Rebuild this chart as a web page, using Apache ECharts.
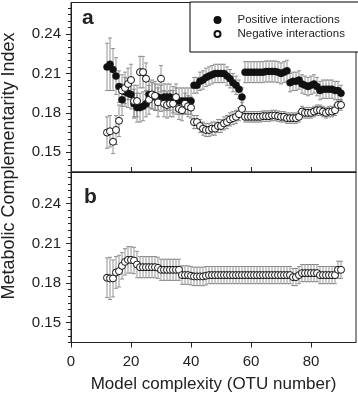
<!DOCTYPE html>
<html><head><meta charset="utf-8">
<script src="https://cdn.jsdelivr.net/npm/echarts@6/dist/echarts.min.js"></script>
<style>html,body{margin:0;padding:0;background:#fff}#c{width:358px;height:396px}</style>
</head><body><div id="c"></div>
<script>
const otu = [12,13,14,15,16,17,18,19,20,21,22,23,24,25,26,27,28,29,30,31,32,33,34,35,36,37,38,39,40,41,42,43,44,45,46,47,48,49,50,51,52,53,54,55,56,57,58,59,60,61,62,63,64,65,66,67,68,69,70,71,72,73,74,75,76,77,78,79,80,81,82,83,84,85,86,87,88,89,90];
const posA = [0.215,0.217,0.213,0.208,0.200,0.190,0.196,0.195,0.194,0.187,
  0.184,0.184,0.185,0.187,0.194,0.193,0.192,0.192,0.191,0.192,
  0.192,0.192,0.190,0.189,0.189,0.189,0.189,0.189,0.189,0.201,
  0.201,0.204,0.205,0.207,0.208,0.209,0.210,0.210,0.210,0.210,
  0.208,0.206,0.203,0.201,0.198,0.192,0.211,0.211,0.211,0.211,
  0.211,0.211,0.211,0.2115,0.2115,0.2115,0.2115,0.211,0.210,0.211,
  0.212,0.203,0.204,0.204,0.205,0.202,0.201,0.200,0.201,0.202,
  0.200,0.197,0.198,0.198,0.198,0.198,0.197,0.197,0.195];
const posAErr = [0.018,0.020,0.016,0.014,0.012,0.012,0.011,0.011,0.011,0.011,
  0.011,0.011,0.011,0.010,0.010,0.010,0.010,0.010,0.010,0.010,
  0.010,0.010,0.010,0.010,0.010,0.010,0.010,0.010,0.010,0.006,
  0.006,0.007,0.007,0.007,0.007,0.007,0.007,0.007,0.007,0.007,
  0.007,0.007,0.007,0.007,0.007,0.007,0.008,0.008,0.008,0.008,
  0.008,0.008,0.008,0.008,0.008,0.008,0.008,0.008,0.008,0.008,
  0.008,0.007,0.007,0.007,0.007,0.007,0.007,0.007,0.007,0.007,
  0.007,0.007,0.007,0.007,0.007,0.007,0.007,0.007,0.006];
const negA = [0.165,0.166,0.158,0.167,0.174,0.197,0.199,0.202,0.205,0.189,
  0.189,0.211,0.211,0.206,0.190,0.194,0.193,0.188,0.206,0.187,
  0.186,0.187,0.187,0.192,0.183,0.182,0.187,0.185,0.184,0.173,
  0.173,0.170,0.168,0.167,0.167,0.168,0.168,0.170,0.170,0.172,
  0.173,0.175,0.176,0.177,0.179,0.183,0.177,0.177,0.177,0.177,
  0.177,0.177,0.1775,0.1775,0.1775,0.178,0.178,0.1775,0.177,0.177,
  0.176,0.176,0.176,0.176,0.177,0.181,0.180,0.180,0.180,0.181,
  0.182,0.182,0.181,0.180,0.181,0.181,0.182,0.186,0.186];
const negAErr = [0.012,0.012,0.009,0.011,0.012,0.012,0.012,0.012,0.012,0.012,
  0.012,0.012,0.012,0.012,0.011,0.011,0.011,0.011,0.010,0.010,
  0.010,0.010,0.010,0.010,0.008,0.008,0.008,0.008,0.008,0.005,
  0.005,0.005,0.005,0.005,0.005,0.005,0.005,0.005,0.005,0.005,
  0.005,0.005,0.005,0.005,0.005,0.005,0.004,0.004,0.004,0.004,
  0.004,0.004,0.004,0.004,0.004,0.004,0.004,0.004,0.004,0.004,
  0.004,0.004,0.004,0.004,0.004,0.004,0.004,0.004,0.004,0.004,
  0.004,0.004,0.004,0.004,0.004,0.004,0.004,0.004,0.004];
const negB = [0.184,0.1835,0.1835,0.188,0.189,0.193,0.196,0.1975,0.1975,0.197,
  0.194,0.192,0.192,0.192,0.192,0.192,0.192,0.1915,0.190,0.190,
  0.190,0.190,0.190,0.190,0.190,0.186,0.186,0.186,0.1855,0.185,
  0.185,0.185,0.185,0.1855,0.186,0.186,0.186,0.186,0.186,0.186,
  0.186,0.186,0.186,0.186,0.186,0.186,0.186,0.186,0.186,0.186,
  0.186,0.186,0.186,0.186,0.186,0.186,0.186,0.186,0.186,0.186,
  0.186,0.186,0.1845,0.1845,0.186,0.1875,0.1875,0.1875,0.1875,0.1875,
  0.1875,0.186,0.186,0.186,0.186,0.186,0.186,0.190,0.190];
const negBErr = [0.015,0.016,0.014,0.012,0.012,0.010,0.010,0.010,0.010,0.010,
  0.010,0.008,0.008,0.008,0.008,0.008,0.008,0.008,0.008,0.008,
  0.008,0.008,0.008,0.008,0.008,0.007,0.007,0.007,0.007,0.007,
  0.007,0.007,0.007,0.007,0.0065,0.0065,0.0065,0.0065,0.0065,0.0065,
  0.0065,0.0065,0.0065,0.0065,0.0065,0.0065,0.0065,0.0065,0.0065,0.0065,
  0.0065,0.0065,0.0065,0.0065,0.0065,0.0065,0.0065,0.0065,0.0065,0.0065,
  0.0065,0.0065,0.0065,0.0065,0.0065,0.0065,0.0065,0.0065,0.0065,0.0065,
  0.0065,0.0065,0.0065,0.0065,0.0065,0.0065,0.0065,0.0065,0.0065];
const xTicks = [0,20,40,60,80];
const yTicks = [0.15,0.18,0.21,0.24];
const seriesNames = ['Positive interactions','Negative interactions'];
const panelLabels = ['a','b'];
const xTitle = 'Model complexity (OTU number)';
const yTitle = 'Metabolic Complementarity Index';

const FONT = '"Liberation Sans", Arial, sans-serif';
const INK = '#222';
const yMin = 0.135, yMax = 0.264;
const minorTicks = [];
for (let k = 27; k * 0.005 <= yMax + 1e-9; k++) minorTicks.push(+(k * 0.005).toFixed(3));

function pts(m){ return otu.map((x,i)=>[x,m[i]]); }
function bars(m,e){ return otu.map((x,i)=>[x,m[i]-e[i],m[i]+e[i]]); }
function errRender(params, api){
  const x = api.value(0);
  const a = api.coord([x, api.value(1)]);
  const b = api.coord([x, api.value(2)]);
  const w = 2;
  const st = {stroke:'#7a7a7a', lineWidth:0.8};
  return {type:'group', children:[
    {type:'line', shape:{x1:a[0],y1:a[1],x2:b[0],y2:b[1]}, style:st},
    {type:'line', shape:{x1:a[0]-w,y1:a[1],x2:a[0]+w,y2:a[1]}, style:st},
    {type:'line', shape:{x1:b[0]-w,y1:b[1],x2:b[0]+w,y2:b[1]}, style:st}
  ]};
}
function yMajor(g){
  return {type:'value', gridIndex:g, position:'left', min:yMin, max:yMax,
    axisLine:{show:true, lineStyle:{color:INK,width:1}},
    axisTick:{show:true, inside:false, length:5, customValues:yTicks, lineStyle:{color:INK}},
    axisLabel:{show:true, customValues:yTicks, margin:10, fontSize:15, fontFamily:FONT, color:INK,
      formatter:v=>v.toFixed(2)},
    splitLine:{show:false}};
}
function yMinor(g){
  return {type:'value', gridIndex:g, position:'left', min:yMin, max:yMax,
    axisLine:{show:false},
    axisTick:{show:true, inside:false, length:3, customValues:minorTicks, lineStyle:{color:INK}},
    axisLabel:{show:false}, splitLine:{show:false}};
}
const chart = echarts.init(document.getElementById('c'), null, {renderer:'canvas'});
chart.setOption({
  animation:false,
  backgroundColor:'#fff',
  grid:[
    {left:71, top:2.5, width:285, height:169.5, show:true, borderColor:INK, borderWidth:1, backgroundColor:'transparent'},
    {left:71, top:172, width:285, height:170.5, show:true, borderColor:INK, borderWidth:1, backgroundColor:'transparent'}
  ],
  xAxis:[
    {type:'value', gridIndex:0, min:0, max:95,
      axisLine:{show:true, lineStyle:{color:INK}},
      axisTick:{show:true, inside:true, length:5, customValues:xTicks, lineStyle:{color:INK}},
      axisLabel:{show:false}, splitLine:{show:false}},
    {type:'value', gridIndex:1, min:0, max:95,
      axisLine:{show:true, lineStyle:{color:INK}},
      axisTick:{show:true, inside:false, length:5, customValues:xTicks, lineStyle:{color:INK}},
      axisLabel:{show:true, customValues:xTicks, margin:12, fontSize:15, fontFamily:FONT, color:INK},
      splitLine:{show:false},
      name:xTitle, nameLocation:'middle', nameGap:33,
      nameTextStyle:{fontSize:17, fontFamily:FONT, color:INK}}
  ],
  yAxis:[yMajor(0), yMinor(0), yMajor(1), yMinor(1)],
  legend:{
    data:seriesNames, orient:'vertical', left:190, top:2,
    padding:[11,17,11,23.5], itemGap:0, itemWidth:6, itemHeight:6,
    borderColor:'#000', borderWidth:1, backgroundColor:'#fff',
    textStyle:{fontSize:11.5, fontFamily:FONT, color:INK, lineHeight:14, padding:[0,0,0,12]},
    selectedMode:false
  },
  series:[
    {type:'custom', xAxisIndex:0, yAxisIndex:0, renderItem:errRender, data:bars(posA,posAErr), z:1, silent:true},
    {type:'custom', xAxisIndex:0, yAxisIndex:0, renderItem:errRender, data:bars(negA,negAErr), z:1, silent:true},
    {type:'custom', xAxisIndex:1, yAxisIndex:2, renderItem:errRender, data:bars(negB,negBErr), z:1, silent:true},
    {name:seriesNames[0], type:'scatter', xAxisIndex:0, yAxisIndex:0, symbol:'circle', symbolSize:7,
      itemStyle:{color:'#111', borderColor:'#111', borderWidth:0.5, opacity:1}, data:pts(posA), z:3},
    {name:seriesNames[1], type:'scatter', xAxisIndex:0, yAxisIndex:0, symbol:'circle', symbolSize:7,
      itemStyle:{color:'#fff', borderColor:'#111', borderWidth:1, opacity:1}, data:pts(negA), z:4},
    {name:'b', type:'scatter', xAxisIndex:1, yAxisIndex:2, symbol:'circle', symbolSize:7,
      itemStyle:{color:'#fff', borderColor:'#111', borderWidth:1, opacity:1}, data:pts(negB), z:4}
  ],
  graphic:[
    {type:'text', x:9, y:166, rotation:Math.PI/2,
      style:{text:yTitle, font:'18px '+FONT, fill:INK, textAlign:'center', textVerticalAlign:'middle'}},
    {type:'text', x:82, y:18.5, style:{text:panelLabels[0], font:'bold 21px '+FONT, fill:INK, textAlign:'left', textVerticalAlign:'middle'}},
    {type:'text', x:84, y:197.5, style:{text:panelLabels[1], font:'bold 21px '+FONT, fill:INK, textAlign:'left', textVerticalAlign:'middle'}}
  ]
});
</script></body></html>
